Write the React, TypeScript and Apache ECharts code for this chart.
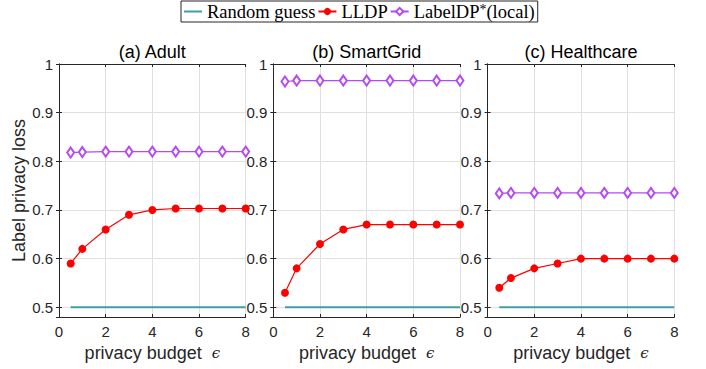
import React, { useEffect, useRef } from "react";
import * as echarts from "echarts";

const budgets = [0.5, 1, 2, 3, 4, 5, 6, 7, 8];
const panelTitles = ["(a) Adult", "(b) SmartGrid", "(c) Healthcare"];
const randomGuess = [0.5, 0.5, 0.5, 0.5, 0.5, 0.5, 0.5, 0.5, 0.5];
const lldpAdult = [0.59, 0.62, 0.66, 0.69, 0.7, 0.703, 0.703, 0.703, 0.703];
const lldpSmartGrid = [0.53, 0.58, 0.63, 0.66, 0.67, 0.67, 0.67, 0.67, 0.67];
const lldpHealthcare = [0.54, 0.56, 0.58, 0.59, 0.6, 0.6, 0.6, 0.6, 0.6];
const labelDPAdult = [0.818, 0.819, 0.82, 0.82, 0.82, 0.82, 0.82, 0.82, 0.82];
const labelDPSmartGrid = [0.964, 0.966, 0.966, 0.966, 0.966, 0.966, 0.966, 0.966, 0.966];
const labelDPHealthcare = [0.734, 0.735, 0.735, 0.735, 0.735, 0.735, 0.735, 0.735, 0.735];
const xTicks = [0, 2, 4, 6, 8];

const lldpAll = [lldpAdult, lldpSmartGrid, lldpHealthcare];
const labelDPAll = [labelDPAdult, labelDPSmartGrid, labelDPHealthcare];

const NAMES = ["Random guess", "LLDP", "LabelDP*(local)"];
const TEAL = "#3f9ea8";
const RED = "#ff0000";
const PURPLE = "#b449f5";
const AX = "#262626";
const SANS = "Liberation Sans, Arial, sans-serif";
const SERIF = "Liberation Serif, Times New Roman, serif";

const pair = (ys: number[]) => budgets.map((x, i) => [x, ys[i]]);

export default function App() {
  const ref = useRef<HTMLDivElement>(null);
  useEffect(() => {
    if (!ref.current) return;
    const chart = echarts.init(ref.current, undefined, { renderer: "svg" });
    const lefts = [59, 273.3, 487.6];
    const W = 186.7;
    const top = 64;
    const H = 253;

    const grids = lefts.map((l) => ({ left: l, top, width: W, height: H, containLabel: false }));
    const xAxes: any[] = [];
    const yAxes: any[] = [];
    lefts.forEach((_, i) => {
      xAxes.push({
        type: "value",
        gridIndex: i,
        min: xTicks[0],
        max: xTicks[xTicks.length - 1],
        interval: 2,
        position: "bottom",
        axisLine: { show: true, lineStyle: { color: AX, width: 1 } },
        axisTick: { show: true, inside: true, length: 3, lineStyle: { color: AX } },
        axisLabel: { color: AX, fontSize: 15, fontFamily: SANS, margin: 7 },
        splitLine: { show: true, lineStyle: { color: "#e0e0e0", width: 1 } },
        name: "privacy budget  {e|ϵ}",
        nameLocation: "middle",
        nameGap: 26,
        nameTextStyle: {
          color: AX,
          fontSize: 18,
          fontFamily: SANS,
          rich: { e: { fontFamily: "DejaVu Serif", fontStyle: "italic", fontSize: 15, color: AX } },
        },
      });
      xAxes.push({
        type: "value",
        gridIndex: i,
        min: xTicks[0],
        max: xTicks[xTicks.length - 1],
        interval: 2,
        position: "top",
        axisLine: { show: true, lineStyle: { color: AX, width: 1 } },
        axisTick: { show: true, inside: true, length: 3, lineStyle: { color: AX } },
        axisLabel: { show: false },
        splitLine: { show: false },
      });
      yAxes.push({
        type: "value",
        gridIndex: i,
        min: 0.48,
        max: 1,
        position: "left",
        axisLine: { show: true, lineStyle: { color: AX, width: 1 } },
        axisTick: { show: true, inside: true, length: 3, lineStyle: { color: AX } },
        axisLabel: {
          color: AX,
          fontSize: 15,
          fontFamily: SANS,
          margin: 6,
          showMinLabel: false,
          formatter: (v: number) => (Math.abs(v - 1) < 1e-9 ? "1" : v.toFixed(1)),
        },
        splitLine: { show: true, lineStyle: { color: "#e0e0e0", width: 1 } },
        ...(i === 0
          ? {
              name: "Label privacy loss",
              nameLocation: "middle",
              nameGap: 30,
              nameTextStyle: { color: AX, fontSize: 18, fontFamily: SANS },
            }
          : {}),
      });
      yAxes.push({
        type: "value",
        gridIndex: i,
        min: 0.48,
        max: 1,
        position: "right",
        axisLine: { show: true, lineStyle: { color: AX, width: 1 } },
        axisTick: { show: true, inside: true, length: 3, lineStyle: { color: AX } },
        axisLabel: { show: false },
        splitLine: { show: false },
      });
    });

    const series: any[] = [];
    lefts.forEach((_, i) => {
      series.push({
        name: NAMES[0],
        type: "line",
        xAxisIndex: i * 2,
        yAxisIndex: i * 2,
        data: pair(randomGuess),
        showSymbol: false,
        symbol: "none",
        lineStyle: { color: TEAL, width: 2 },
        itemStyle: { color: TEAL },
      });
      series.push({
        name: NAMES[1],
        type: "line",
        xAxisIndex: i * 2,
        yAxisIndex: i * 2,
        data: pair(lldpAll[i]),
        symbol: "circle",
        symbolSize: 8,
        lineStyle: { color: RED, width: 1.2 },
        itemStyle: { color: RED },
      });
      series.push({
        name: NAMES[2],
        type: "line",
        xAxisIndex: i * 2,
        yAxisIndex: i * 2,
        data: pair(labelDPAll[i]),
        symbol: "emptyDiamond",
        symbolSize: [7, 10],
        lineStyle: { color: PURPLE, width: 1.2 },
        itemStyle: { color: PURPLE, borderColor: PURPLE, borderWidth: 1 },
      });
    });

    chart.setOption({
      animation: false,
      backgroundColor: "#ffffff",
      title: panelTitles.map((t, i) => ({
        text: t,
        left: lefts[i] + W / 2,
        top: 43,
        textAlign: "center",
        padding: 0,
        textStyle: { fontSize: 18, fontWeight: "normal", fontFamily: SANS, color: "#000" },
      })),
      legend: {
        data: [
          { name: NAMES[0], icon: "path://M0 0 H18 V2 H0 Z" },
          { name: NAMES[1] },
          { name: NAMES[2] },
        ],
        left: 181,
        top: 1,
        padding: [1, 3, 1, 3],
        itemGap: 2,
        itemWidth: 18,
        itemHeight: 9,
        borderColor: AX,
        borderWidth: 1,
        backgroundColor: "#fff",
        formatter: (name: string) =>
          name === NAMES[2] ? "{t|LabelDP}{s|*}{t|(local)}" : "{t|" + name + "}",
        textStyle: {
          fontFamily: SERIF,
          fontSize: 18.5,
          color: "#000",
          rich: {
            t: { fontFamily: SERIF, fontSize: 18.5, color: "#000" },
            s: { fontFamily: SERIF, fontSize: 14, color: "#000", verticalAlign: "top" },
          },
        },
      },
      grid: grids,
      xAxis: xAxes,
      yAxis: yAxes,
      series,
    });
    return () => chart.dispose();
  }, []);
  return (
    <div
      ref={ref}
      style={{ position: "fixed", left: 0, top: 0, width: 706, height: 369, background: "#fff" }}
    />
  );
}
